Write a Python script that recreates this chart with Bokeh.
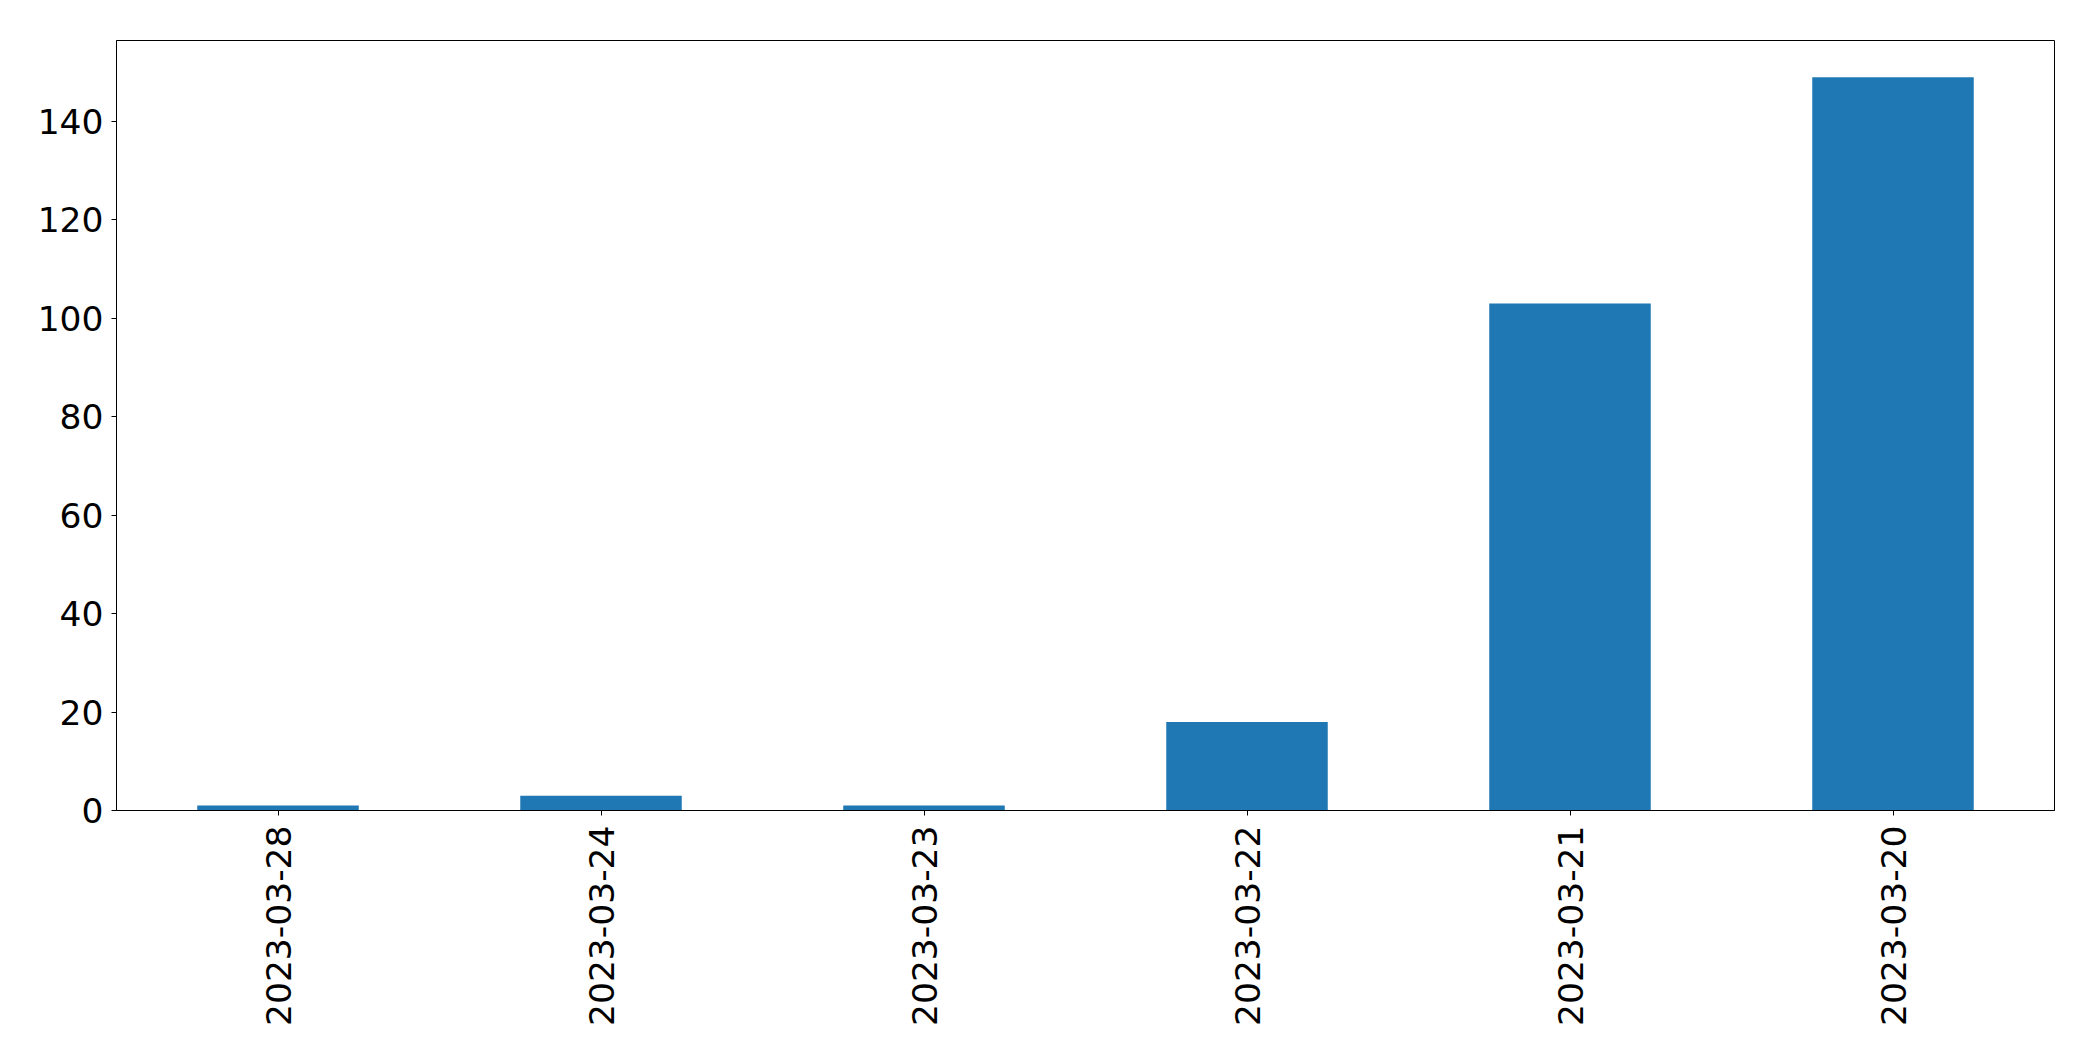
import math
from bokeh.plotting import figure
from bokeh.models import FactorRange, Range1d, FixedTicker, ColumnDataSource
from bokeh.embed import file_html
from bokeh.resources import INLINE

dates = ["2023-03-28", "2023-03-24", "2023-03-23", "2023-03-22", "2023-03-21", "2023-03-20"]
counts = [1, 3, 1, 18, 103, 149]
y_ticks = [0, 20, 40, 60, 80, 100, 120, 140]

src = ColumnDataSource(dict(date=dates, count=counts))

p = figure(
    x_range=FactorRange(factors=dates, range_padding=0),
    y_range=Range1d(0, max(counts) * 1.05),
    width=2077, height=1045,
    min_border_left=116, min_border_right=23, min_border_top=40, min_border_bottom=235,
    output_backend="svg", toolbar_location=None,
)
p.vbar(x="date", top="count", width=0.5, source=src, color="#1f77b4", line_color=None)

p.xgrid.grid_line_color = None
p.ygrid.grid_line_color = None
p.outline_line_color = "black"
p.outline_line_width = 1
p.outline_line_alpha = 1.0
p.background_fill_color = "white"
p.border_fill_color = "white"

p.yaxis.ticker = FixedTicker(ticks=y_ticks)
for ax in (p.xaxis[0], p.yaxis[0]):
    ax.axis_line_color = "black"
    ax.axis_line_width = 1
    ax.major_tick_line_color = "black"
    ax.major_tick_out = 5
    ax.major_tick_in = 0
    ax.minor_tick_line_color = None
    ax.major_label_text_font = "DejaVu Sans"
    ax.major_label_text_font_size = "34.5px"
    ax.major_label_text_color = "black"
p.yaxis.major_label_standoff = 8
p.xaxis.major_label_standoff = 10
p.xaxis.major_label_orientation = math.pi / 2

open("out.html", "w").write(file_html(p, INLINE))
